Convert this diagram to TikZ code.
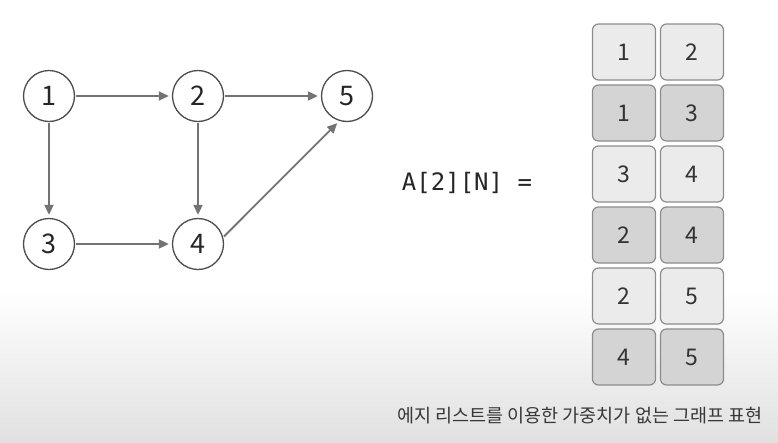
\documentclass[tikz,border=0pt]{standalone}
\usepackage{fontspec}
\setmainfont{Noto Sans CJK KR}
\newfontfamily\codefont{DejaVu Sans Mono}
\usetikzlibrary{arrows.meta}

\begin{document}
\begin{tikzpicture}[x=1pt,y=-1pt,
  vertex/.style={circle,draw=black!70,line width=1.3pt,fill=white,minimum size=51pt,inner sep=0pt,text=black!85,font=\fontsize{27}{27}\selectfont},
  edge/.style={draw=black!55,line width=1.8pt,-{Triangle[length=10pt,width=9pt]},shorten >=3pt,shorten <=1pt},
  cell/.style={draw=black!45,line width=1.2pt,rounded corners=6pt,minimum width=63pt,minimum height=56pt,inner sep=0pt,text=black!80,font=\fontsize{23}{23}\selectfont},
  lightcell/.style={cell,fill=black!8},
  darkcell/.style={cell,fill=black!17}]
  \useasboundingbox (0,0) rectangle (778,442);
  \shade[top color=white,bottom color=black!12] (0,290) rectangle (778,442);

  % graph
  \node[vertex] (n1) at (49,96) {1};
  \node[vertex] (n2) at (198,96) {2};
  \node[vertex] (n5) at (347,96) {5};
  \node[vertex] (n3) at (49,244) {3};
  \node[vertex] (n4) at (198,244) {4};
  \draw[edge] (n1) -- (n2);
  \draw[edge] (n2) -- (n5);
  \draw[edge] (n1) -- (n3);
  \draw[edge] (n2) -- (n4);
  \draw[edge] (n3) -- (n4);
  \draw[edge] (n4.15) -- (n5.-107);

  % edge list
  \node[text=black!85] (lbl) at (467,183) {\codefont\fontsize{24}{24}\selectfont A[2][N] =};
  \foreach \a/\b/\s [count=\i] in {1/2/lightcell,1/3/darkcell,3/4/lightcell,2/4/darkcell,2/5/lightcell,4/5/darkcell}{
    \node[\s] (r\i a) at (624,{52+61*(\i-1)}) {\a};
    \node[\s] (r\i b) at (692,{52+61*(\i-1)}) {\b};
  }

  \node[anchor=east,text=black!78,font=\fontsize{18.5}{18.5}\selectfont] (cap) at (766,416) {에지 리스트를 이용한 가중치가 없는 그래프 표현};
\end{tikzpicture}
\end{document}
